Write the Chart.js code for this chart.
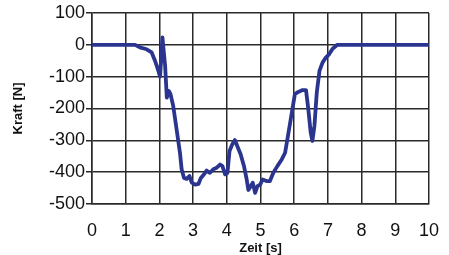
<!DOCTYPE html>
<html>
<head>
<meta charset="utf-8">
<script src="https://cdn.jsdelivr.net/npm/chart.js@4/dist/chart.umd.min.js"></script>
<style>
html,body{margin:0;padding:0;background:#fff;}
#wrap{width:449px;height:255px;position:relative;}
</style>
</head>
<body>
<div id="wrap"><canvas id="c" width="449" height="255"></canvas></div>
<script>
const timeS = [0, 0.5, 1.0, 1.28, 1.42, 1.62, 1.77, 1.87, 1.97, 2.02, 2.09, 2.17, 2.22, 2.28, 2.33, 2.41, 2.51, 2.61, 2.66, 2.73, 2.81, 2.89, 2.96, 3.06, 3.16, 3.23, 3.32, 3.40, 3.50, 3.60, 3.70, 3.80, 3.87, 3.95, 4.02, 4.08, 4.16, 4.24, 4.31, 4.41, 4.51, 4.59, 4.64, 4.71, 4.77, 4.84, 4.91, 4.99, 5.06, 5.18, 5.28, 5.38, 5.50, 5.63, 5.73, 5.83, 5.93, 6.02, 6.12, 6.25, 6.35, 6.42, 6.49, 6.54, 6.60, 6.67, 6.75, 6.84, 6.94, 7.04, 7.14, 7.28, 8.0, 9.0, 10.0];
const forceN = [0, 0, 0, 0, -8, -14, -24, -50, -82, -100, 23, -66, -166, -145, -155, -192, -265, -339, -391, -418, -421, -412, -433, -439, -437, -418, -407, -395, -402, -391, -386, -376, -381, -407, -402, -334, -313, -299, -318, -344, -381, -423, -456, -444, -433, -465, -444, -439, -423, -428, -428, -402, -381, -360, -339, -276, -213, -155, -148, -142, -142, -203, -276, -302, -255, -150, -82, -56, -40, -29, -12, 0, 0, 0, 0];
const xTicks = [0,1,2,3,4,5,6,7,8,9,10];
const yTicks = [100,0,-100,-200,-300,-400,-500];
const xTitle = 'Zeit [s]';
const yTitle = 'Kraft [N]';

const pts = timeS.map((t,i)=>({x:t,y:forceN[i]}));
const gridCol = '#2a2a2a';
new Chart(document.getElementById('c'), {
  type: 'line',
  data: { datasets: [{ data: pts, borderColor: '#2b3590', borderWidth: 3.8, pointRadius: 0, tension: 0, fill: false, borderJoinStyle: 'round', borderCapStyle: 'round' }] },
  options: {
    responsive: false, animation: false, devicePixelRatio: 1,
    layout: { padding: { top: 13, right: 20, left: 11, bottom: 0 } },
    plugins: { legend: { display: false }, tooltip: { enabled: false }, title: { display: false } },
    scales: {
      x: {
        type: 'linear', min: 0, max: 10,
        afterBuildTicks: s => { s.ticks = xTicks.map(v=>({value:v})); },
        afterFit: s => { s.height = 51; s.paddingRight = 0; s.paddingLeft = 0; },
        grid: { color: gridCol, lineWidth: 1.5, drawTicks: false },
        border: { color: gridCol, width: 1.5 },
        ticks: { color: '#111', font: { family: 'Liberation Sans, Arial, sans-serif', size: 18 }, padding: 16, maxRotation: 0 },
        title: { display: true, text: xTitle, color: '#111', font: { family: 'Liberation Sans, Arial, sans-serif', size: 13, weight: 'bold' }, padding: { top: 0, bottom: -1.5 } }
      },
      y: {
        type: 'linear', min: -500, max: 100,
        afterBuildTicks: s => { s.ticks = yTicks.map(v=>({value:v})); },
        afterFit: s => { s.width = 81; },
        grid: { color: gridCol, lineWidth: 1.5, drawTicks: true, tickLength: 6, tickColor: gridCol },
        border: { color: gridCol, width: 1.5 },
        ticks: { color: '#111', font: { family: 'Liberation Sans, Arial, sans-serif', size: 18 }, padding: 1 },
        title: { display: true, text: yTitle, color: '#111', font: { family: 'Liberation Sans, Arial, sans-serif', size: 13, weight: 'bold' }, padding: { top: 0, bottom: 4 } }
      }
    }
  }
});
</script>
</body>
</html>
